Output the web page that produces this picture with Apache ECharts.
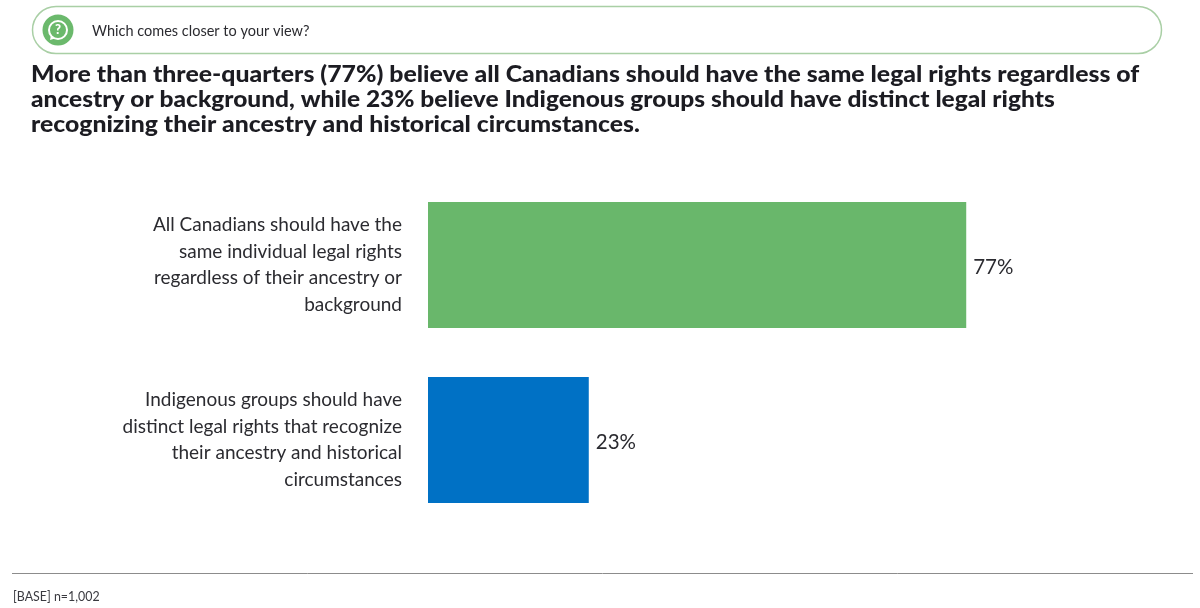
<!DOCTYPE html>
<html>
<head>
<meta charset="utf-8">
<style>html,body{margin:0;padding:0;background:#fff}#chart{width:1200px;height:608px}</style>
<script src="https://cdn.jsdelivr.net/npm/echarts@6/dist/echarts.min.js"></script>
</head>
<body>
<div id="chart"></div>
<script>
// Survey response shares, top bar first
const categories = [
  'All Canadians should have the\nsame individual legal rights\nregardless of their ancestry or\nbackground',
  'Indigenous groups should have\ndistinct legal rights that recognize\ntheir ancestry and historical\ncircumstances'
];
const shares = [77, 23];
const barColors = ['#69b76b', '#0071c5'];
const question = 'Which comes closer to your view?';
const headlineLines = [
  'More than three-quarters (77%) believe all Canadians should have the same legal rights regardless of',
  'ancestry or background, while 23% believe Indigenous groups should have distinct legal rights',
  'recognizing their ancestry and historical circumstances.'
];
const baseNote = '[BASE] n=1,002';

const FONT = 'Lato, "Open Sans", sans-serif';
const chart = echarts.init(document.getElementById('chart'), null, {renderer: 'canvas'});

// Headline lines are widened horizontally to give the broad display weight
const headlineStretch = [1.128, 1.113, 1.125];
const headline = headlineLines.map((line, i) => ({
  type: 'text', x: 31, y: 64 + i * 25, scaleX: headlineStretch[i],
  style: {x: 0, y: 0, text: line, font: '900 22px ' + FONT, fill: '#1c1c22'}
}));

chart.setOption({
  animation: false,
  backgroundColor: '#ffffff',
  grid: {left: 428, top: 177.5, width: 699, height: 350, containLabel: false},
  xAxis: {type: 'value', min: 0, max: 100, show: false},
  yAxis: {
    type: 'category', inverse: true, data: categories,
    axisLine: {show: false}, axisTick: {show: false},
    axisLabel: {margin: 26, align: 'right', padding: [2, 0, 0, 0], fontFamily: FONT, fontSize: 19, lineHeight: 26.7, color: '#2b2b30'}
  },
  series: [{
    type: 'bar', barWidth: 126,
    data: shares.map((v, i) => ({value: v, itemStyle: {color: barColors[i]}})),
    label: {show: true, position: 'right', distance: 7, offset: [0, 2], formatter: '{c}%', fontFamily: FONT, fontSize: 20.5, color: '#2b2b30'}
  }],
  graphic: [
    // Question banner
    {type: 'rect', shape: {x: 32.5, y: 6.5, width: 1129, height: 47, r: 23.5},
     style: {fill: '#fff', stroke: '#a9cfa5', lineWidth: 1.5}},
    {type: 'circle', shape: {cx: 58, cy: 30, r: 15.5}, style: {fill: '#6bb96c'}},
    {type: 'circle', shape: {cx: 58, cy: 30, r: 9}, style: {fill: 'none', stroke: '#fff', lineWidth: 2}},
    {type: 'polygon', shape: {points: [[51, 35], [50, 40], [55, 38.5]]}, style: {fill: '#fff'}},
    {type: 'text', style: {x: 58, y: 30, text: '?', align: 'center', verticalAlign: 'middle', font: '900 13px ' + FONT, fill: '#fff'}},
    {type: 'text', style: {x: 92, y: 31, text: question, verticalAlign: 'middle', font: '14.5px ' + FONT, fill: '#2b2b30'}},
    ...headline,
    // Footer
    {type: 'line', shape: {x1: 12, y1: 573.5, x2: 1193, y2: 573.5}, style: {stroke: '#8c8c8c', lineWidth: 1}},
    {type: 'text', style: {x: 13, y: 597, text: baseNote, verticalAlign: 'middle', font: '12.4px ' + FONT, fill: '#3a3a40'}}
  ]
});
</script>
</body>
</html>
